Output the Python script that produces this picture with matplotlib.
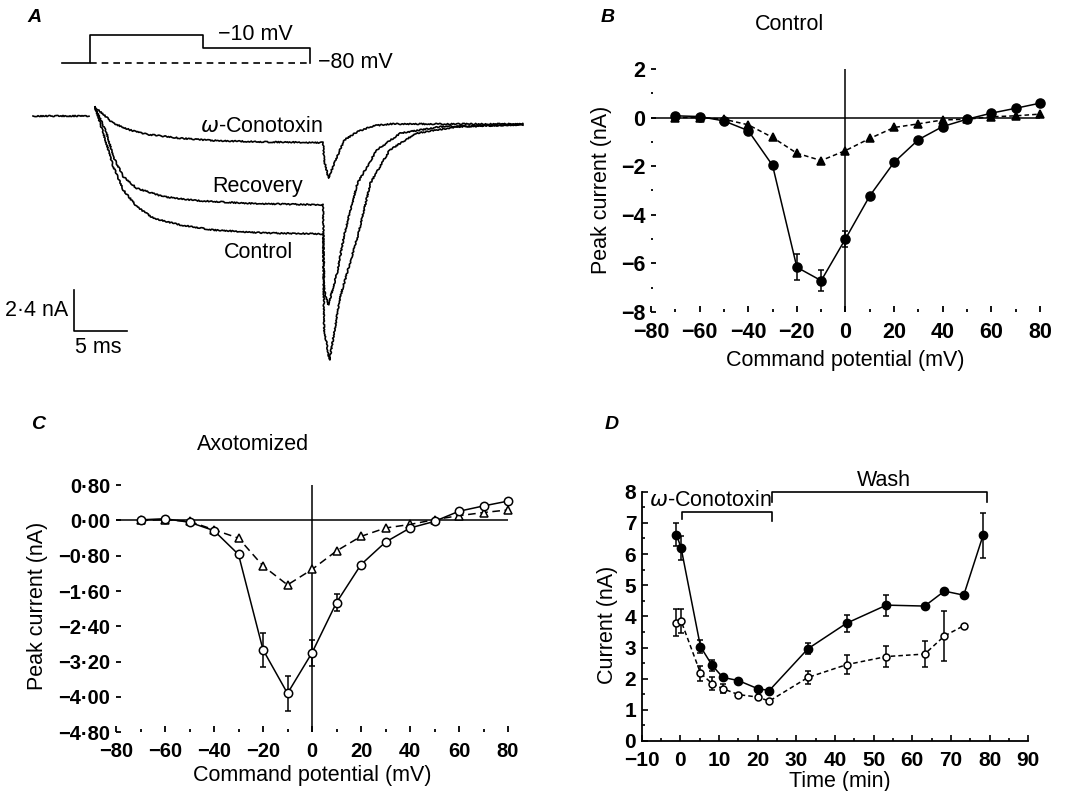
import matplotlib.pyplot as plt
import numpy as np

plt.rcParams["font.family"] = ["Liberation Sans", "DejaVu Sans"]
plt.rcParams["mathtext.fontset"] = "dejavusans"

W, H = 1065, 791

# ---------------- A: example current traces (ms, nA) ----------------
base_t = [-5.3, -0.1]
base_i = [0.0, 0.0]

cono_t = [0.47, 2.17, 3.72, 5.28, 8.38, 11.48, 16.14, 21.7, 21.8, 22.2, 23.0, 23.7, 24.9, 26.4, 27.9, 40.3]
cono_i = [0.53, -0.43, -0.82, -1.07, -1.30, -1.44, -1.52, -1.56, -2.57, -3.64, -2.38, -1.40, -0.92, -0.58, -0.47, -0.47]

reco_t = [0.47, 1.55, 2.17, 3.10, 4.35, 6.83, 9.93, 14.59, 21.7, 21.8, 22.2, 23.0, 23.7, 24.9, 26.7, 28.9, 32.6, 40.3]
reco_i = [0.53, -1.01, -2.38, -3.55, -4.23, -4.72, -4.95, -5.11, -5.20, -10.2, -11.05, -9.2, -6.86, -3.94, -1.99, -1.01, -0.63, -0.51]

ctrl_t = [0.47, 1.24, 2.17, 3.10, 4.35, 5.90, 8.38, 11.48, 16.14, 21.7, 21.8, 22.3, 23.3, 25.0, 26.1, 27.9, 30.4, 34.2, 40.3]
ctrl_i = [0.53, -1.01, -2.96, -4.33, -5.30, -5.98, -6.37, -6.67, -6.84, -6.90, -12.5, -14.27, -10.57, -6.86, -3.94, -1.99, -1.01, -0.63, -0.51]

# voltage protocol (ms, mV)
prot_t = [-2.65, 0, 0, 10.5, 10.5, 20.5, 20.5]
prot_v = [-80, -80, 55, 55, -10, -10, -80]
hold_t = [0, 20.5]
hold_v = [-80, -80]

# ---------------- B / C: I-V curves ----------------
volts = [-70, -60, -50, -40, -30, -20, -10, 0, 10, 20, 30, 40, 50, 60, 70, 80]

b_total = [0.07, 0.04, -0.14, -0.54, -1.97, -6.16, -6.71, -4.99, -3.22, -1.84, -0.91, -0.37, -0.07, 0.18, 0.38, 0.59]
b_total_err = [0, 0, 0, 0, 0, 0.54, 0.44, 0.33, 0, 0, 0, 0, 0, 0, 0, 0]
b_cono = [0.0, 0.0, -0.07, -0.30, -0.82, -1.47, -1.77, -1.36, -0.86, -0.41, -0.26, -0.10, -0.07, 0.03, 0.07, 0.14]

c_total = [0.015, 0.04, -0.04, -0.23, -0.77, -2.93, -3.92, -3.0, -1.86, -1.0, -0.49, -0.17, -0.02, 0.21, 0.33, 0.44]
c_total_err = [0, 0, 0, 0, 0, 0.39, 0.40, 0.30, 0.19, 0, 0, 0, 0, 0, 0, 0]
c_cono = [0.0, 0.02, -0.02, -0.21, -0.40, -1.03, -1.46, -1.11, -0.69, -0.36, -0.17, -0.09, 0.02, 0.11, 0.18, 0.24]

# ---------------- D: time course ----------------
d_time_f = [-1, 0.2, 5.2, 8.2, 11, 15, 20, 23, 33, 43, 53.3, 63.2, 68.3, 73.3, 78.3]
d_filled = [6.62, 6.19, 3.03, 2.43, 2.04, 1.94, 1.68, 1.62, 2.96, 3.78, 4.36, 4.33, 4.81, 4.68, 6.6]
d_filled_err = [0.37, 0.38, 0.2, 0.18, 0, 0, 0, 0, 0.17, 0.27, 0.34, 0, 0, 0, 0.72]
d_time_o = [-1, 0.2, 5.2, 8.2, 11, 15, 20, 23, 33, 43, 53.3, 63.2, 68.3, 73.3]
d_open = [3.8, 3.85, 2.18, 1.84, 1.68, 1.49, 1.41, 1.28, 2.04, 2.45, 2.71, 2.79, 3.37, 3.70]
d_open_err = [0.44, 0.4, 0.24, 0.2, 0.15, 0, 0, 0, 0.22, 0.3, 0.34, 0.42, 0.8, 0]

toxin_period = (0.4, 23.7)
wash_period = (23.7, 79.3)

fig = plt.figure(figsize=(W / 100, H / 100), dpi=100)


def place(x0, y0, x1, y1):
    return fig.add_axes([x0 / W, 1 - y1 / H, (x1 - x0) / W, (y1 - y0) / H])


def ftext(x, y, s, **kw):
    fig.text(x / W, 1 - y / H, s, **kw)


LAB = 15.5
LW = 1.1
LETTER = dict(fontsize=14, style="italic", fontweight="bold", ha="center", va="center")

# ---------------- panel A ----------------
axA = place(0, 0, 540, 380)
axA.set_xlim(-8.38, 41.9)
axA.set_ylim(-15.44, 6.78)
axA.axis("off")
for tt, ii in [(base_t, base_i), (cono_t, cono_i), (reco_t, reco_i), (ctrl_t, ctrl_i)]:
    ln, = axA.plot(tt, ii, color="black", lw=1.2)
    ln.set_sketch_params(0.6, 2.5, 4)

axA.text(15.9, -0.64, r"$\omega$-Conotoxin", ha="center", va="center", fontsize=LAB)
axA.text(15.6, -4.15, "Recovery", ha="center", va="center", fontsize=LAB)
axA.text(15.7, -8.01, "Control", ha="center", va="center", fontsize=LAB)

# scale bar
sb_t0, sb_i0 = -1.52, -12.57
sb_dt, sb_di = 5, 2.4
axA.plot([sb_t0, sb_t0, sb_t0 + sb_dt], [sb_i0 + sb_di, sb_i0, sb_i0], color="black", lw=1.2)
axA.text(sb_t0 - 0.55, sb_i0 + sb_di / 2, "2·4 nA", ha="right", va="center", fontsize=LAB)
axA.text(sb_t0 + 2.3, sb_i0 - 0.95, "5 ms", ha="center", va="center", fontsize=LAB)

axV = axA.twinx()
axV.set_ylim(-1622.4, 224.7)
axV.axis("off")
axV.plot(prot_t, prot_v, color="black", lw=1.2)
axV.plot(hold_t, hold_v, color="black", lw=1.2, ls=(0, (4, 3)))
axV.text(11.9, 59, "−10 mV", ha="left", va="center", fontsize=LAB)
axV.text(21.2, -80, "−80 mV", ha="left", va="center", fontsize=LAB)

ftext(34, 17, "A", **LETTER)


# ---------------- I-V panel helper ----------------
def iv_panel(ax, total, total_err, cono, open_marks, yticks, ylabels, ylim, yminor, tsize):
    ax.set_xlim(-80, 82)
    ax.set_ylim(*ylim)
    for s in ax.spines.values():
        s.set_visible(False)
    ax.hlines(0, -80, 80, color="black", lw=LW)
    ax.vlines(0, ylim[0], yticks[-1], color="black", lw=LW)
    fc = "white" if open_marks else "black"
    dash = (0, (5, 3)) if open_marks else (0, (3, 2))
    ax.plot(volts, cono, color="black", lw=LW, ls=dash, marker="^",
            ms=6, mfc=fc, mec="black", mew=1.1, clip_on=False, zorder=3)
    ax.plot(volts, total, color="black", lw=LW, marker="o",
            ms=6.5 if not open_marks else 6, mfc=fc, mec="black", mew=1.1,
            clip_on=False, zorder=4)
    v = np.array(volts)
    e = np.array(total_err)
    m = e > 0
    ax.errorbar(v[m], np.array(total)[m], yerr=e[m], fmt="none", ecolor="black",
                elinewidth=1.1, capsize=2.5, capthick=1.1, zorder=2)
    xt = list(range(-80, 81, 20))
    ax.set_xticks(xt, [str(t).replace("-", "−") for t in xt], fontweight="bold")
    ax.set_xticks(list(range(-70, 81, 20)), minor=True)
    ax.set_yticks(yticks, ylabels, fontweight="bold")
    ax.set_yticks(yminor, minor=True)
    ax.tick_params(which="both", direction="in", width=1.3, labelsize=tsize)
    ax.tick_params(axis="x", which="major", length=4, pad=7.5)
    ax.tick_params(axis="x", which="minor", length=2.2)
    ax.tick_params(axis="y", which="major", length=3.8, pad=4)
    ax.tick_params(axis="y", which="minor", length=1.5)


# ---------------- panel B ----------------
axB = place(651, 61.6, 1040 + 2 * 2.43, 312)
b_yt = [-8, -6, -4, -2, 0, 2]
iv_panel(axB, b_total, b_total_err, b_cono, False, b_yt,
         [str(t).replace("-", "−") for t in b_yt], (-8, 2.3), [-7, -5, -3, -1, 1], 15.5)
ftext(601.7, 190, "Peak current (nA)", rotation=90, ha="center", va="center", fontsize=LAB)
ftext(845, 360, "Command potential (mV)", ha="center", va="center", fontsize=LAB)
ftext(790, 25, "Control", ha="center", va="center", fontsize=LAB)
ftext(608, 17, "B", **LETTER)

# ---------------- panel C ----------------
axC = place(116, 478.6, 512.9, 732.2)
c_yt = [-4.8, -4.0, -3.2, -2.4, -1.6, -0.8, 0.0, 0.8]
iv_panel(axC, c_total, c_total_err, c_cono, True, c_yt,
         [f"{t:.2f}".replace(".", "·").replace("-", "−") for t in c_yt], (-4.8, 0.95), [], 14.5)
axC.tick_params(axis="x", which="major", pad=7)
ftext(37.4, 606, "Peak current (nA)", rotation=90, ha="center", va="center", fontsize=LAB)
ftext(312, 776, "Command potential (mV)", ha="center", va="center", fontsize=LAB)
ftext(252.7, 445, "Axotomized", ha="center", va="center", fontsize=LAB)
ftext(38, 425, "C", **LETTER)

# ---------------- panel D ----------------
axD = place(641.7, 491.7, 1028.3, 741)
axD.set_xlim(-10, 90)
axD.set_ylim(0, 8)
axD.spines["top"].set_visible(False)
axD.spines["right"].set_visible(False)
for s in ("left", "bottom"):
    axD.spines[s].set_linewidth(1.3)
axD.plot(d_time_o, d_open, color="black", lw=LW, ls=(0, (3, 2)), marker="o", ms=5,
         mfc="white", mec="black", mew=1.1, zorder=3, clip_on=False)
axD.plot(d_time_f, d_filled, color="black", lw=LW, marker="o", ms=6,
         mfc="black", mec="black", zorder=4, clip_on=False)
for tt, yy, ee in [(d_time_f, d_filled, d_filled_err), (d_time_o, d_open, d_open_err)]:
    tt, yy, ee = np.array(tt), np.array(yy), np.array(ee)
    m = ee > 0
    axD.errorbar(tt[m], yy[m], yerr=ee[m], fmt="none", ecolor="black",
                 elinewidth=1.1, capsize=2.5, capthick=1.1, zorder=2, clip_on=False)

# treatment brackets
t0, t1 = toxin_period
axD.plot([t0, t0, t1, t1], [7.11, 7.34, 7.34, 7.07], color="black", lw=1.2, clip_on=False)
w0, w1 = wash_period
axD.plot([w0, w0, w1, w1], [7.66, 7.98, 7.98, 7.66], color="black", lw=1.2, clip_on=False)
axD.text(7.8, 7.71, r"$\omega$-Conotoxin", ha="center", va="center", fontsize=LAB)
axD.text(52.6, 8.36, "Wash", ha="center", va="center", fontsize=LAB, clip_on=False)

dxt = list(range(-10, 91, 10))
axD.set_xticks(dxt, [str(t).replace("-", "−") for t in dxt], fontweight="bold")
axD.set_xticks(list(range(-5, 90, 10)), minor=True)
axD.set_yticks(range(0, 9), [str(t) for t in range(0, 9)], fontweight="bold")
axD.set_yticks(np.arange(0.5, 8, 1.0), minor=True)
axD.tick_params(which="both", direction="in", width=1.2, labelsize=15)
axD.tick_params(which="major", length=4)
axD.tick_params(which="minor", length=2.5)
axD.tick_params(axis="x", pad=7)
axD.tick_params(axis="y", pad=4)
ftext(608, 625, "Current (nA)", rotation=90, ha="center", va="center", fontsize=LAB)
ftext(840, 782, "Time (min)", ha="center", va="center", fontsize=LAB)
ftext(612, 425, "D", **LETTER)

fig.savefig("out.png", dpi=100)
